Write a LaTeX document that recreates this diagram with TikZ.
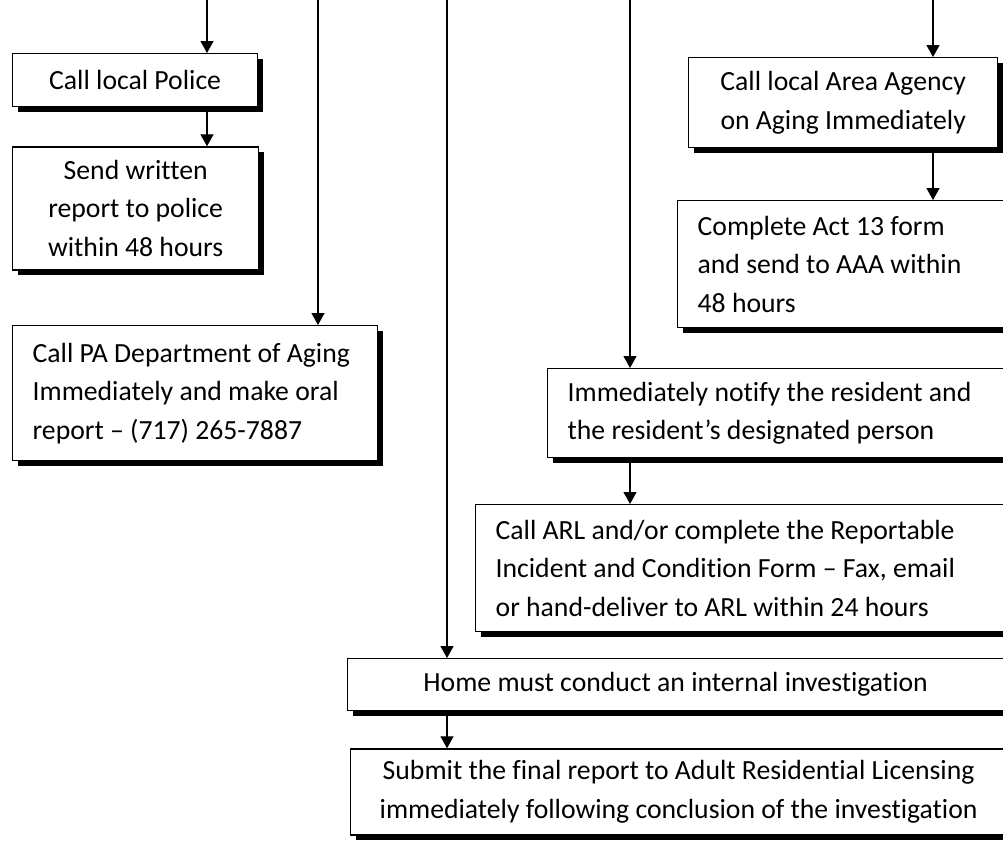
\documentclass[tikz,border=0pt]{standalone}
\usepackage{fontspec}
\setmainfont{Carlito}[Ligatures={TeX,NoCommon}]
\usetikzlibrary{arrows.meta,positioning,shadows}
\newcommand\stepfont{\fontsize{27.7}{38.5}\selectfont}
\tikzset{
  box/.style={draw=black, fill=white, line width=1.3pt, inner sep=0pt,
    general shadow={fill=black, shadow xshift=5pt, shadow yshift=-5pt},
    font=\stepfont, anchor=north west},
  midbox/.style={box, align=center},
  leftbox/.style={box, align=flush left, inner xsep=20pt},
  arrow/.style={-{Triangle[length=12pt, width=13pt]}, line width=1.3pt},
}
\begin{document}
\begin{tikzpicture}[x=1pt, y=-1pt]
\useasboundingbox (0,0) rectangle (1003,841);
\clip (0,0) rectangle (1003,841);

% lines coming in from above
\foreach \name/\x in {topa/207, topb/318, topc/447, topd/630, tope/933}
  \coordinate (\name) at (\x,0);

% left column
\node[midbox, minimum width=245pt, minimum height=53pt] (police) at (12,53)
  {Call local Police};
\node[midbox, minimum width=246pt, minimum height=123pt,
  below=39pt of police.south west, anchor=north west] (report)
  {Send written\\report to police\\within 48 hours};
\node[leftbox, text width=325pt, minimum height=135pt] (padept) at (12,325)
  {Call PA Department of Aging\\Immediately and make oral\\report -- (717) 265-7887};

% right column
\node[midbox, minimum width=309pt, minimum height=90pt] (aaa) at (688,57)
  {Call local Area Agency\\on Aging Immediately};
\node[leftbox, text width=300pt, minimum height=127pt] (act) at (677,200)
  {Complete Act 13 form\\and send to AAA within\\48 hours};
\node[leftbox, text width=430pt, minimum height=89pt] (notify) at (547,368)
  {Immediately notify the resident and\\the resident’s designated person};
\node[leftbox, text width=500pt, minimum height=127pt] (arl) at (475,504)
  {Call ARL and/or complete the Reportable\\Incident and Condition Form -- Fax, email\\or hand-deliver to ARL within 24 hours};

% bottom
\node[midbox, minimum width=656pt, minimum height=52pt] (home) at (347,658)
  {Home must conduct an internal investigation};
\node[midbox, minimum width=656pt, minimum height=86pt,
  below=37pt of home.south west, anchor=north west, xshift=3pt] (final)
  {Submit the final report to Adult Residential Licensing\\immediately following conclusion of the investigation};

\draw[arrow] (topa) -- (topa |- police.north);
\draw[arrow] (topa |- police.south) -- (topa |- report.north);
\draw[arrow] (topb) -- (topb |- padept.north);
\draw[arrow] (topc) -- (topc |- home.north);
\draw[arrow] (topd) -- (topd |- notify.north);
\draw[arrow] (topd |- notify.south) -- (topd |- arl.north);
\draw[arrow] (tope) -- (tope |- aaa.north);
\draw[arrow] (tope |- aaa.south) -- (tope |- act.north);
\draw[arrow] (topc |- home.south) -- (topc |- final.north);

\end{tikzpicture}
\end{document}
